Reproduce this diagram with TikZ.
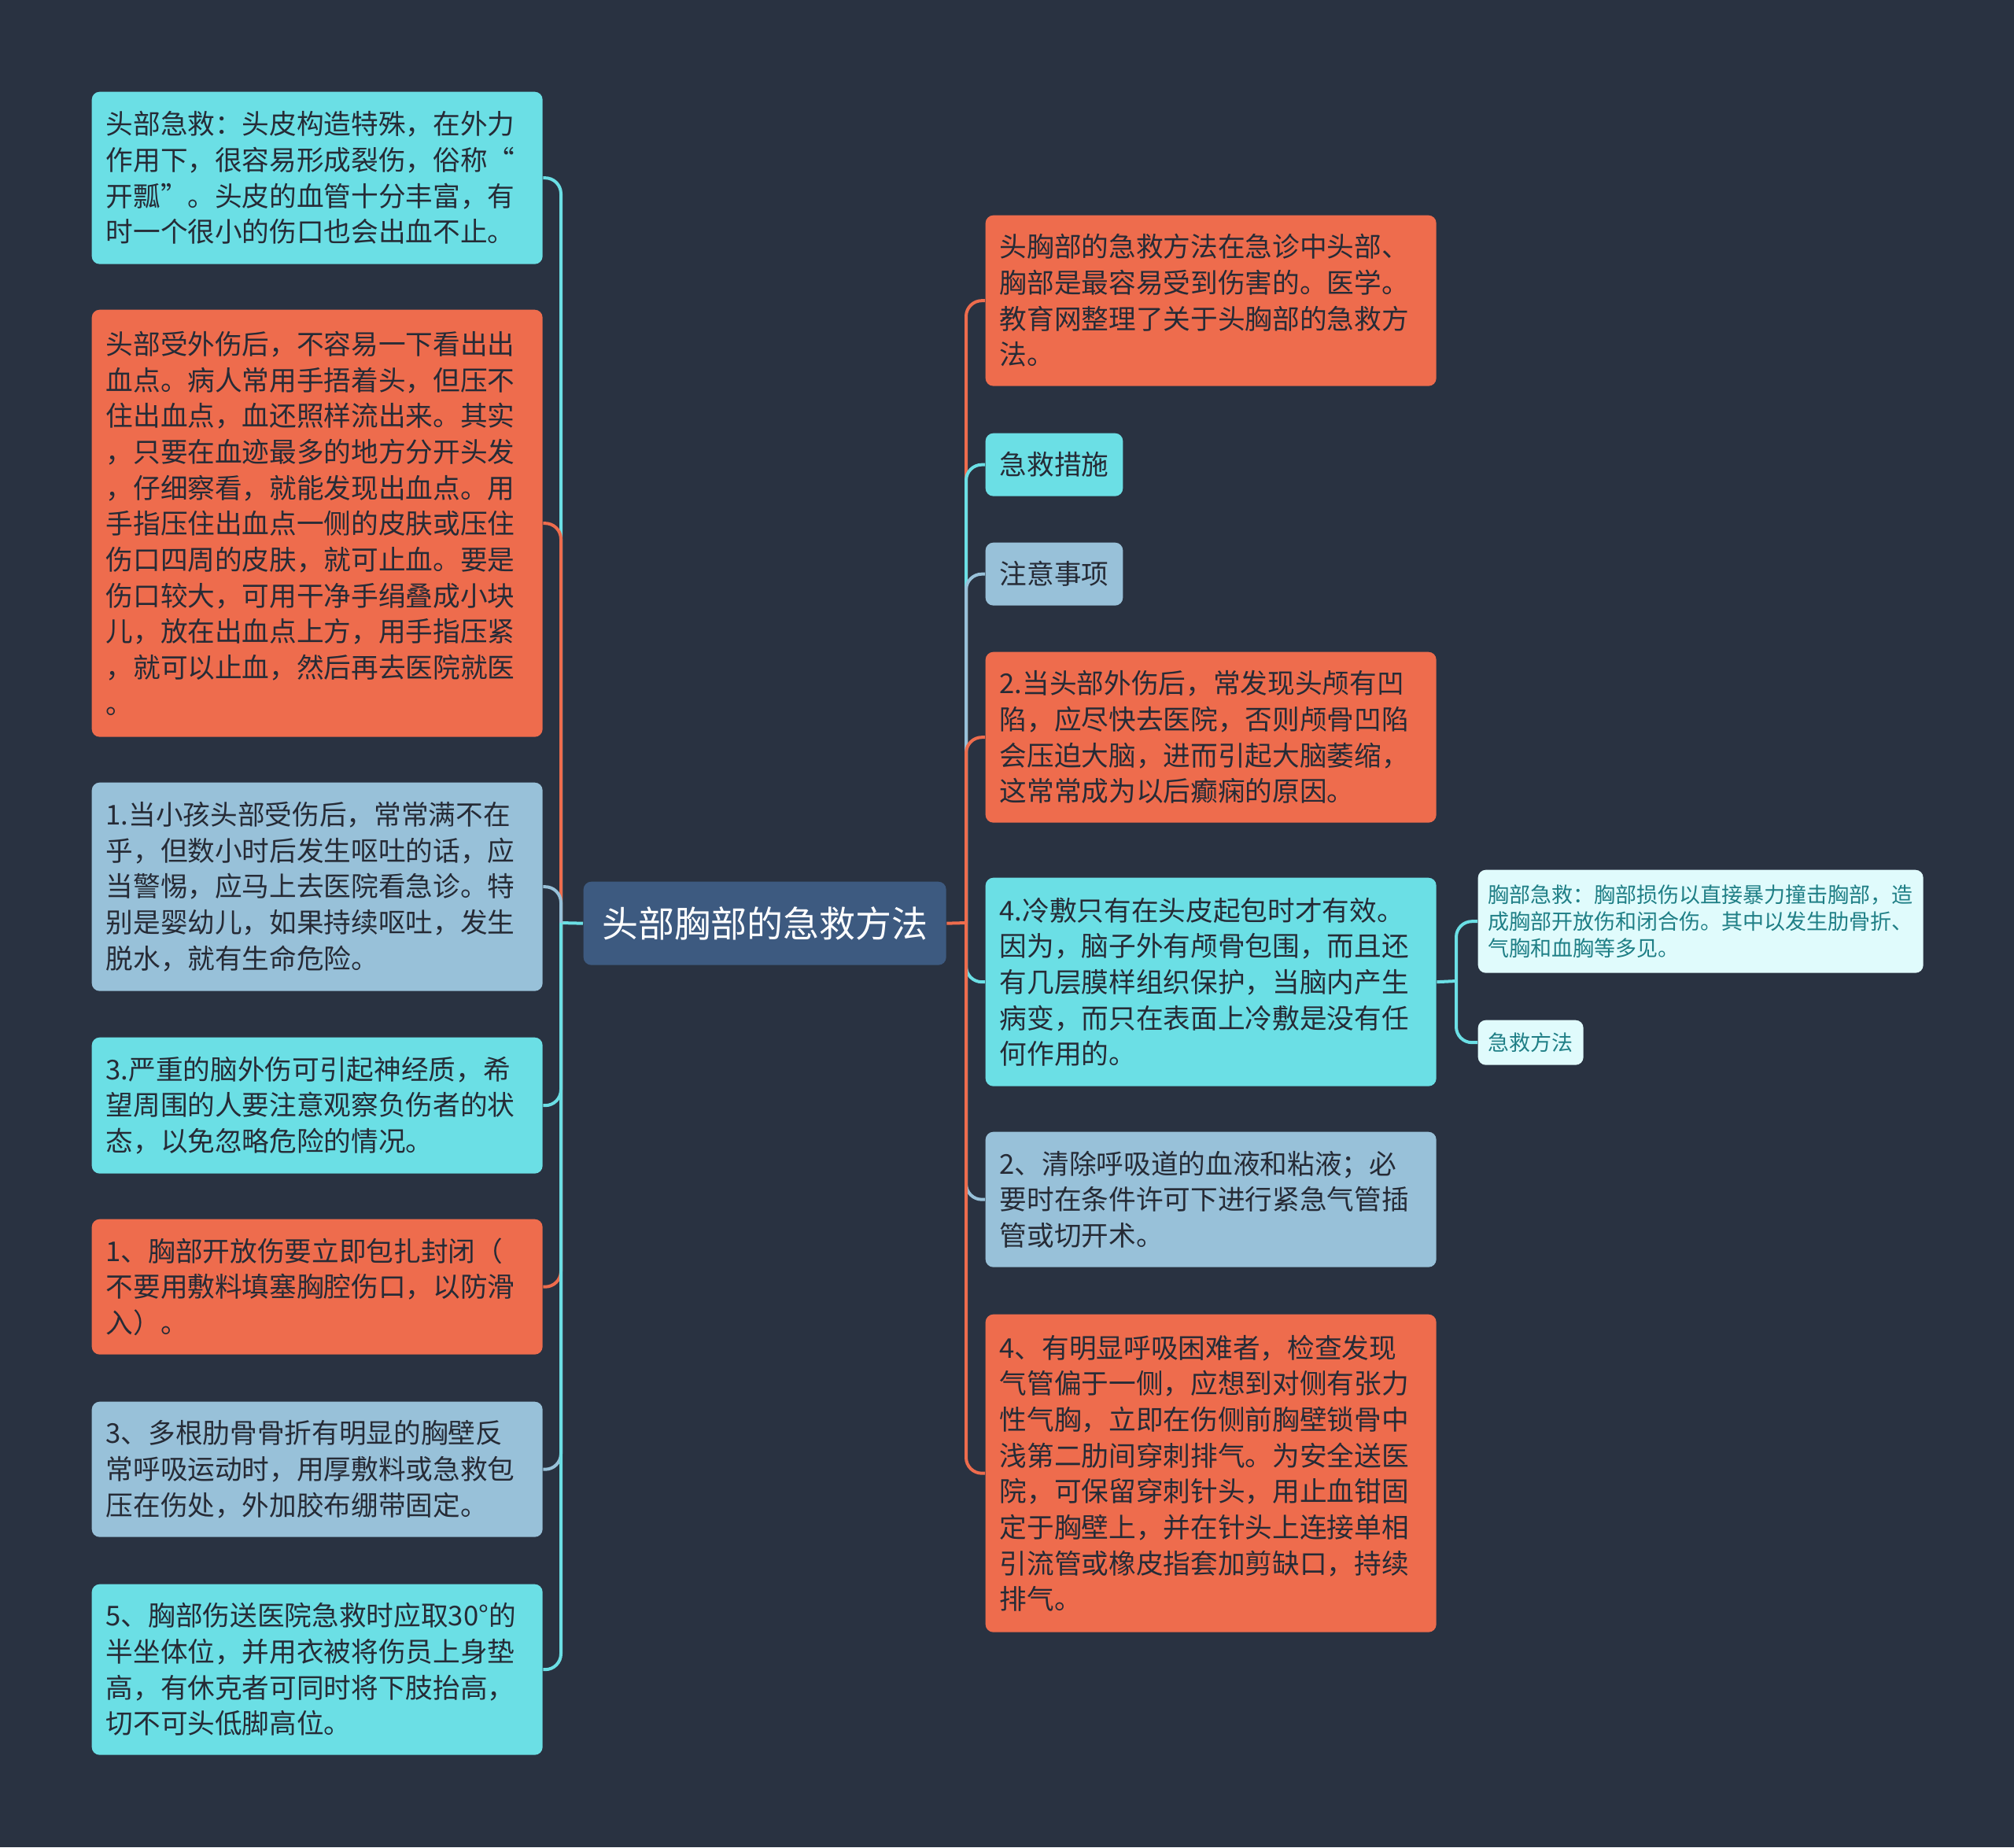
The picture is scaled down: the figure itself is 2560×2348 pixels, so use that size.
\documentclass[tikz,border=0pt]{standalone}
\usepackage{fontspec}
\newfontfamily\cjk{Noto Sans CJK SC}
\definecolor{bg}{HTML}{293241}
\definecolor{cy}{HTML}{6BDFE5}
\definecolor{og}{HTML}{EE6C4D}
\definecolor{bl}{HTML}{98C1D9}
\definecolor{rt}{HTML}{3D5A80}
\definecolor{lt}{HTML}{E0FBFC}
\definecolor{txt}{HTML}{262B36}
\definecolor{teal}{HTML}{1F7F86}
\begin{document}
\begin{tikzpicture}[x=0.3pt,y=-0.3pt,
  box/.style={anchor=north west, rounded corners=3pt, inner xsep=5.4pt, inner ysep=0pt,
    align=left, text width=161.1pt, font=\cjk\fontsize{10.4}{13.7}\selectfont, text=txt},
  tag/.style={anchor=north west, rounded corners=3pt, inner xsep=5.4pt, inner ysep=0pt,
    font=\cjk\fontsize{10.4}{13.7}\selectfont, text=txt, minimum height=24pt},
  small/.style={anchor=north west, rounded corners=3pt, inner xsep=3.9pt, inner ysep=0pt,
    align=left, fill=lt, font=\cjk\fontsize{8.1}{10.3}\selectfont, text=teal},
  conn/.style={line width=1.2pt, rounded corners=6pt},
  hline/.style={line width=1.2pt}]
\fill[bg] (0,0) rectangle (2560,2348);
\useasboundingbox (0,0) rectangle (2560,2348);

% root
\node[anchor=north west, fill=rt, rounded corners=3pt, minimum width=138.3pt, minimum height=31.8pt,
  inner sep=0pt, text=white, font=\cjk\fontsize{13.8}{16}\selectfont] (root) at (741,1120) {头部胸部的急救方法};

% left nodes
\node[box, fill=cy, minimum height=65.7pt] (l1) at (116,116) {头部急救：头皮构造特殊，在外力\\作用下，很容易形成裂伤，俗称“\\开瓢”。头皮的血管十分丰富，有\\时一个很小的伤口也会出血不止。};
\node[box, fill=og, minimum height=162.9pt] (l2) at (116,393) {头部受外伤后，不容易一下看出出\\血点。病人常用手捂着头，但压不\\住出血点，血还照样流出来。其实\\，只要在血迹最多的地方分开头发\\，仔细察看，就能发现出血点。用\\手指压住出血点一侧的皮肤或压住\\伤口四周的皮肤，就可止血。要是\\伤口较大，可用干净手绢叠成小块\\儿，放在出血点上方，用手指压紧\\，就可以止血，然后再去医院就医\\。};
\node[box, fill=bl, minimum height=79.5pt] (l3) at (116,994) {1.当小孩头部受伤后，常常满不在\\乎，但数小时后发生呕吐的话，应\\当警惕，应马上去医院看急诊。特\\别是婴幼儿，如果持续呕吐，发生\\脱水，就有生命危险。};
\node[box, fill=cy, minimum height=51.9pt] (l4) at (116,1318) {3.严重的脑外伤可引起神经质，希\\望周围的人要注意观察负伤者的状\\态，以免忽略危险的情况。};
\node[box, fill=og, minimum height=51.6pt] (l5) at (116,1549) {1、胸部开放伤要立即包扎封闭（\\不要用敷料填塞胸腔伤口，以防滑\\入）。};
\node[box, fill=bl, minimum height=51.6pt] (l6) at (116,1781) {3、多根肋骨骨折有明显的胸壁反\\常呼吸运动时，用厚敷料或急救包\\压在伤处，外加胶布绷带固定。};
\node[box, fill=cy, minimum height=65.1pt] (l7) at (116,2013) {5、胸部伤送医院急救时应取30°的\\半坐体位，并用衣被将伤员上身垫\\高，有休克者可同时将下肢抬高，\\切不可头低脚高位。};

% right nodes
\node[box, fill=og, minimum height=65.1pt] (r1) at (1252,273) {头胸部的急救方法在急诊中头部、\\胸部是最容易受到伤害的。医学。\\教育网整理了关于头胸部的急救方\\法。};
\node[tag, fill=cy] (r2) at (1252,550) {急救措施};
\node[tag, fill=bl] (r3) at (1252,689) {注意事项};
\node[box, fill=og, minimum height=65.1pt] (r4) at (1252,828) {2.当头部外伤后，常发现头颅有凹\\陷，应尽快去医院，否则颅骨凹陷\\会压迫大脑，进而引起大脑萎缩，\\这常常成为以后癫痫的原因。};
\node[box, fill=cy, minimum height=79.5pt] (r5) at (1252,1115) {4.冷敷只有在头皮起包时才有效。\\因为，脑子外有颅骨包围，而且还\\有几层膜样组织保护，当脑内产生\\病变，而只在表面上冷敷是没有任\\何作用的。};
\node[box, fill=bl, minimum height=51.6pt] (r6) at (1252,1438) {2、清除呼吸道的血液和粘液；必\\要时在条件许可下进行紧急气管插\\管或切开术。};
\node[box, fill=og, minimum height=121.2pt] (r7) at (1252,1670) {4、有明显呼吸困难者，检查发现\\气管偏于一侧，应想到对侧有张力\\性气胸，立即在伤侧前胸壁锁骨中\\浅第二肋间穿刺排气。为安全送医\\院，可保留穿刺针头，用止血钳固\\定于胸壁上，并在针头上连接单相\\引流管或橡皮指套加剪缺口，持续\\排气。};

% far right
\node[small, text width=162pt, minimum height=39.3pt] (f1) at (1878,1105) {胸部急救：胸部损伤以直接暴力撞击胸部，造\\成胸部开放伤和闭合伤。其中以发生肋骨折、\\气胸和血胸等多见。};
\node[small, minimum height=17.1pt] (f2) at (1878,1296) {急救方法};

% junctions
\coordinate (lj) at (713,1173);
\coordinate (rj) at (1228,1173);
\coordinate (fj) at (1851,1247);

% left connectors
\draw[hline, cy] (root.west) -- (lj);
\draw[conn, cy] (lj) |- (l1.east);
\draw[conn, og] (lj) |- (l2.east);
\draw[conn, bl] (lj) |- (l3.east);
\draw[conn, cy] (lj) |- (l4.east);
\draw[conn, og] (lj) |- (l5.east);
\draw[conn, bl] (lj) |- (l6.east);
\draw[conn, cy] (lj) |- (l7.east);

% right connectors
\draw[conn, og] (rj) |- (r1.west);
\draw[conn, cy] (rj) |- (r2.west);
\draw[conn, bl] (rj) |- (r3.west);
\draw[conn, og] (rj) |- (r4.west);
\draw[conn, cy] (rj) |- (r5.west);
\draw[conn, bl] (rj) |- (r6.west);
\draw[conn, og] (rj) |- (r7.west);
\draw[hline, og] (root.east) -- (rj);

% far connectors
\draw[hline, cy] (r5.east) -- (fj);
\draw[conn, cy] (fj) |- (f1.west);
\draw[conn, cy] (fj) |- (f2.west);
\end{tikzpicture}
\end{document}
